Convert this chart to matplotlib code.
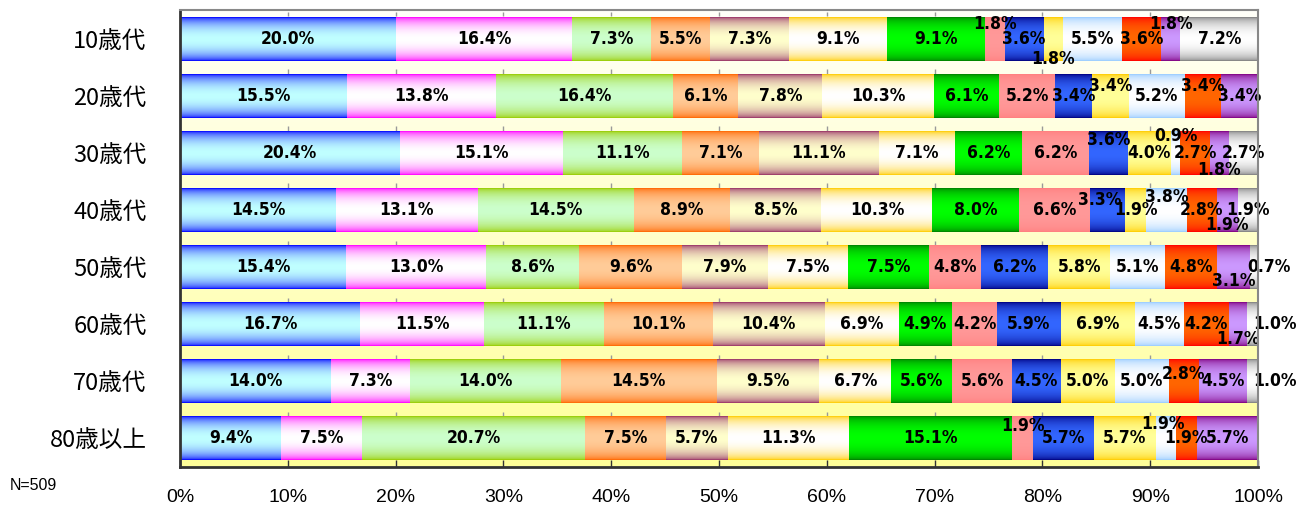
import numpy as np
import matplotlib
matplotlib.use('Agg')
import matplotlib.pyplot as plt
from matplotlib.colors import to_rgb

ages = ['10歳代', '20歳代', '30歳代', '40歳代', '50歳代', '60歳代', '70歳代', '80歳以上']

# share of each of the 14 answers per age group (%)
v10 = [20.0, 16.4, 7.3, 5.5, 7.3, 9.1, 9.1, 1.8, 3.6, 1.8, 5.5, 3.6, 1.8, 7.2]
v20 = [15.5, 13.8, 16.4, 6.1, 7.8, 10.3, 6.1, 5.2, 3.4, 3.4, 5.2, 3.4, 3.4, 0.0]
v30 = [20.4, 15.1, 11.1, 7.1, 11.1, 7.1, 6.2, 6.2, 3.6, 4.0, 0.9, 2.7, 1.8, 2.7]
v40 = [14.5, 13.1, 14.5, 8.9, 8.5, 10.3, 8.0, 6.6, 3.3, 1.9, 3.8, 2.8, 1.9, 1.9]
v50 = [15.4, 13.0, 8.6, 9.6, 7.9, 7.5, 7.5, 4.8, 6.2, 5.8, 5.1, 4.8, 3.1, 0.7]
v60 = [16.7, 11.5, 11.1, 10.1, 10.4, 6.9, 4.9, 4.2, 5.9, 6.9, 4.5, 4.2, 1.7, 1.0]
v70 = [14.0, 7.3, 14.0, 14.5, 9.5, 6.7, 5.6, 5.6, 4.5, 5.0, 5.0, 2.8, 4.5, 1.0]
v80 = [9.4, 7.5, 20.7, 7.5, 5.7, 11.3, 15.1, 1.9, 5.7, 5.7, 1.9, 1.9, 5.7, 0.0]
rows = [v10, v20, v30, v40, v50, v60, v70, v80]
n_total = 509

# gradient colours: bar edge -> bar centre
edge_cols = ['#0000FF', '#FF00FF', '#99CC00', '#FF6600', '#993366', '#FFCC00', '#008000',
             '#FF8080', '#000080', '#FFCC00', '#99CCFF', '#FF0000', '#800080', '#808080']
mid_cols = ['#C0FFFF', '#FFFFFF', '#CCFFCC', '#FFCC99', '#FFFFCC', '#FFFFFF', '#00FF00',
            '#FF9999', '#3366FF', '#FFFF99', '#FFFFFF', '#FF6600', '#CC99FF', '#FFFFFF']

# labels moved by hand in the original: (row, answer): (dx in %, dy in rows)
shift = {(0, 7): (0, -0.26), (0, 9): (0, 0.36), (0, 12): (0, -0.26),
         (1, 9): (0, -0.18), (1, 11): (0, -0.18),
         (2, 8): (0, -0.23), (2, 10): (0, -0.29), (2, 12): (0, 0.30),
         (3, 8): (-0.7, -0.18), (3, 10): (0, -0.22), (3, 12): (0, 0.26),
         (4, 12): (0, 0.25), (4, 13): (1.35, 0),
         (5, 12): (0, 0.26), (5, 13): (2.1, 0),
         (6, 11): (0, -0.13), (6, 13): (2.1, 0),
         (7, 7): (0, -0.21), (7, 10): (-0.3, -0.25)}

fig = plt.figure(figsize=(13.03, 5.09), dpi=100)
ax = fig.add_axes([0.1381, 0.0825, 0.8274, 0.8975])

# plot area background, cream at top to pale yellow at bottom
bg = np.linspace(0, 1, 64)[:, None, None] * (np.array(to_rgb('#FFFF99')) - np.array(to_rgb('#FFFFF8'))) \
    + np.array(to_rgb('#FFFFF8'))
ax.imshow(bg, extent=(0, 100, 7.5, -0.5), aspect='auto', interpolation='bilinear', zorder=0)

ypos = np.arange(len(ages))
left = np.zeros(len(ages))
prof = np.sin(np.linspace(0, np.pi, 64)) ** 0.5
for j in range(len(edge_cols)):
    vals = np.array([r[j] for r in rows])
    bars = ax.barh(ypos, vals, left=left, height=0.77, color='none', edgecolor='none')
    e = np.array(to_rgb(edge_cols[j]))
    m = np.array(to_rgb(mid_cols[j]))
    grad = (e[None, :] * (1 - prof[:, None]) + m[None, :] * prof[:, None])[:, None, :]
    for i, b in enumerate(bars):
        if vals[i] <= 0:
            continue
        x0, y0, w, h = b.get_x(), b.get_y(), b.get_width(), b.get_height()
        ax.imshow(grad, extent=(x0, x0 + w, y0 + h, y0), aspect='auto',
                  interpolation='bilinear', zorder=2)
        dx, dy = shift.get((i, j), (0, 0))
        ax.text(x0 + w / 2 + dx, ypos[i] + dy, '{0:.1f}%'.format(vals[i]), ha='center', va='center',
                family='DejaVu Sans', stretch='condensed', weight='bold', fontsize=12.5,
                zorder=5, clip_on=False)
    left += vals

# short marks just above each bar
for y in ypos:
    ax.vlines(np.arange(10, 100, 10), y - 0.465, y - 0.39, colors='#999999', lw=1, zorder=1)

ax.set_xlim(0, 100)
ax.set_ylim(7.5, -0.5)
ax.set_xticks(np.arange(0, 101, 10))
ax.set_xticklabels(['{0}%'.format(t) for t in range(0, 101, 10)], family='Liberation Sans', fontsize=14)
ax.tick_params(axis='x', direction='in', length=5, width=1, color='#333333', pad=16)
ax.set_yticks(ypos)
ax.set_yticklabels(ages, family=['Noto Sans CJK JP', 'DejaVu Sans'], fontsize=17)
ax.tick_params(axis='y', length=0, pad=24)

for s in ['top', 'right']:
    ax.spines[s].set_color('#888888')
    ax.spines[s].set_linewidth(1.5)
for s in ['left', 'bottom']:
    ax.spines[s].set_color('#333333')
    ax.spines[s].set_linewidth(2)
for s in ax.spines.values():
    s.set_zorder(6)

fig.text(10 / 1303, 1 - 486 / 509, 'N={0}'.format(n_total), ha='left', va='center',
         family='Liberation Sans', fontsize=11.5)

plt.savefig('out.png', dpi=100)
